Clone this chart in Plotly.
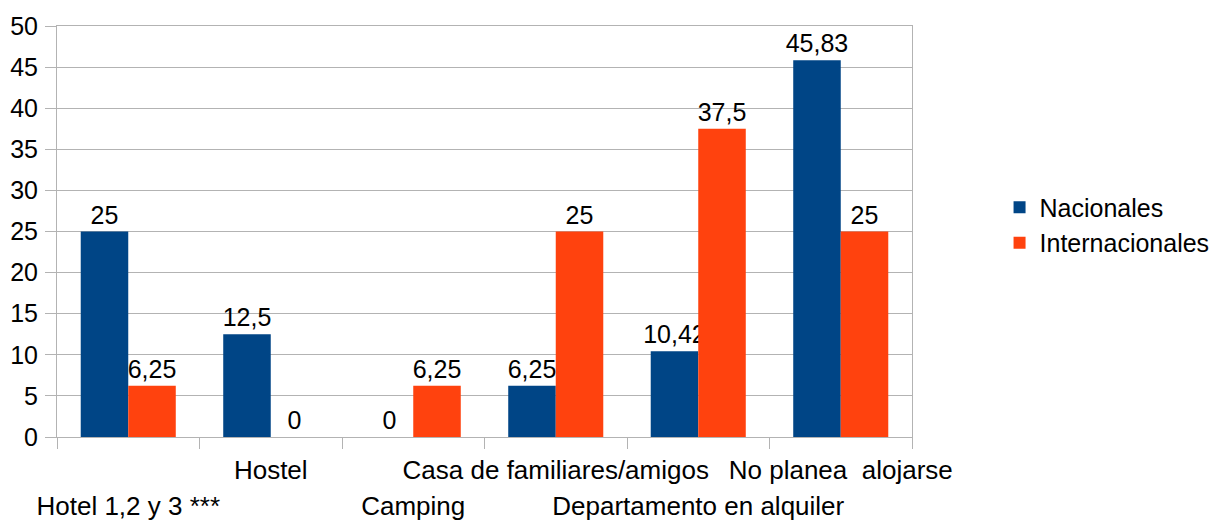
import plotly.graph_objects as go

categories = ["Hotel 1,2 y 3 ***", "Hostel", "Camping", "Casa de familiares/amigos",
              "Departamento en alquiler", "No planea  alojarse"]
nacionales = [25, 12.5, 0, 6.25, 10.42, 45.83]
internacionales = [6.25, 0, 6.25, 25, 37.5, 25]
series_names = ["Nacionales", "Internacionales"]
y_ticks = [0, 5, 10, 15, 20, 25, 30, 35, 40, 45, 50]

BLUE = "#004586"
ORANGE = "#ff420e"
GRAY = "#b3b3b3"
FONT = "Liberation Sans, Arial, sans-serif"
FS = 25
FSX = 26


def fmt(v):
    s = ("%g" % v)
    return s.replace(".", ",")


fig = go.Figure()
for name, vals, col in [(series_names[0], nacionales, BLUE), (series_names[1], internacionales, ORANGE)]:
    fig.add_trace(go.Bar(
        x=categories, y=vals, name=name, marker=dict(color=col, line=dict(width=0)),
        text=[fmt(v) for v in vals], textposition="outside", cliponaxis=False,
        constraintext="none",
        textfont=dict(family=FONT, size=FS, color="black"),
    ))

idx = list(range(len(categories)))
# invisible helper trace so the second (label-row) axis is rendered
fig.add_trace(go.Scatter(x=idx, y=[None] * len(idx), xaxis="x2", yaxis="y",
                         mode="markers", showlegend=False, hoverinfo="skip"))

row1 = [c if i % 2 == 1 else "" for i, c in enumerate(categories)]
row2 = [c if i % 2 == 0 else "" for i, c in enumerate(categories)]

fig.update_layout(
    width=1216, height=521, autosize=False,
    margin=dict(l=57, r=304, t=26, b=84, autoexpand=False),
    paper_bgcolor="white", plot_bgcolor="white",
    font=dict(family=FONT, size=FS, color="black"),
    barmode="group", bargap=0.333, bargroupgap=0,
    showlegend=True,
    legend=dict(xref="container", x=0.822, y=0.516, xanchor="left", yanchor="middle",
                font=dict(family=FONT, size=FS), itemwidth=30, tracegroupgap=0),
    xaxis=dict(type="category", categoryorder="array", categoryarray=categories,
               range=[-0.5, 5.5], automargin=False, tickangle=0,
               tickmode="array", tickvals=categories, ticktext=row1,
               tickson="boundaries", ticks="outside", ticklen=11, tickcolor=GRAY, tickwidth=1,
               showline=True, linecolor=GRAY, mirror=True, showgrid=False,
               ticklabelstandoff=10, tickfont=dict(family=FONT, size=FSX)),
    xaxis2=dict(type="linear", overlaying="x", anchor="y", side="bottom", range=[-0.5, 5.5],
                automargin=False, tickangle=0,
                tickmode="array", tickvals=idx, ticktext=row2,
                ticks="", showline=False, showgrid=False, zeroline=False,
                ticklabelstandoff=51, tickfont=dict(family=FONT, size=FSX)),
    yaxis=dict(range=[0, 50], tickmode="array", tickvals=y_ticks, automargin=False,
               ticks="outside", ticklen=11, tickcolor=GRAY,
               showgrid=True, gridcolor=GRAY, gridwidth=1,
               showline=True, linecolor=GRAY, mirror=True, zeroline=False,
               tickfont=dict(family=FONT, size=FS), ticklabelstandoff=2),
    separators=",.",
)

post = (
    "document.body.style.margin='0';"
    "document.body.style.overflow='hidden';"
)

fig.write_html("out.html",
               config={"responsive": False, "displayModeBar": False},
               post_script=post)
